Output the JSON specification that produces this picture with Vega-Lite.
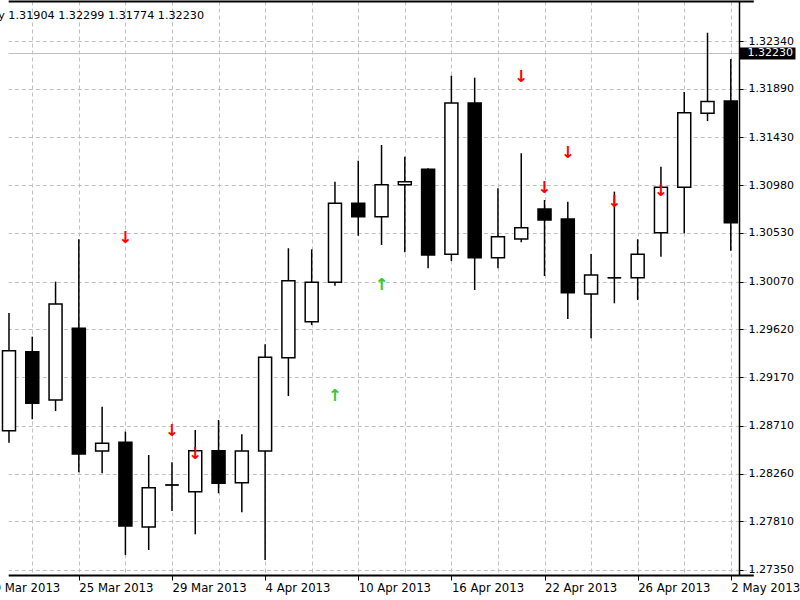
{
  "$schema": "https://vega.github.io/schema/vega-lite/v6.json",
  "width": 739,
  "height": 574,
  "autosize": {"type": "none"},
  "padding": {"left": 0, "top": 1, "right": 61, "bottom": 25},
  "background": "white",
  "config": {"view": {"stroke": null}, "font": "DejaVu Sans"},
  "title": {
    "text": "EURUSD,Daily      1.31904 1.32299 1.31774 1.32230",
    "anchor": "start", "orient": "top", "frame": "group",
    "offset": -35, "baseline": "alphabetic", "dx": -74,
    "font": "DejaVu Sans", "fontSize": 11.2, "fontWeight": "normal", "color": "black"
  },
  "datasets": {
    "candles": [
      {"date": "2013-03-20", "open": 1.28664, "high": 1.29774, "low": 1.28551, "close": 1.29419},
      {"date": "2013-03-21", "open": 1.29409, "high": 1.29551, "low": 1.28772, "close": 1.28922},
      {"date": "2013-03-22", "open": 1.28954, "high": 1.30070, "low": 1.28850, "close": 1.29859},
      {"date": "2013-03-25", "open": 1.29630, "high": 1.30470, "low": 1.28272, "close": 1.28444},
      {"date": "2013-03-26", "open": 1.28473, "high": 1.28890, "low": 1.28262, "close": 1.28545},
      {"date": "2013-03-27", "open": 1.28555, "high": 1.28655, "low": 1.27492, "close": 1.27765},
      {"date": "2013-03-28", "open": 1.27756, "high": 1.28435, "low": 1.27539, "close": 1.28126},
      {"date": "2013-03-29", "open": 1.28152, "high": 1.28366, "low": 1.27907, "close": 1.28152},
      {"date": "2013-04-01", "open": 1.28089, "high": 1.28671, "low": 1.27687, "close": 1.28475},
      {"date": "2013-04-02", "open": 1.28475, "high": 1.28765, "low": 1.28074, "close": 1.28168},
      {"date": "2013-04-03", "open": 1.28174, "high": 1.28630, "low": 1.27894, "close": 1.28473},
      {"date": "2013-04-04", "open": 1.28473, "high": 1.29479, "low": 1.27444, "close": 1.29356},
      {"date": "2013-04-05", "open": 1.29353, "high": 1.30385, "low": 1.28991, "close": 1.30079},
      {"date": "2013-04-08", "open": 1.29692, "high": 1.30375, "low": 1.29661, "close": 1.30064},
      {"date": "2013-04-09", "open": 1.30064, "high": 1.31013, "low": 1.30032, "close": 1.30809},
      {"date": "2013-04-10", "open": 1.30809, "high": 1.31211, "low": 1.30503, "close": 1.30683},
      {"date": "2013-04-11", "open": 1.30683, "high": 1.31359, "low": 1.30416, "close": 1.30985},
      {"date": "2013-04-12", "open": 1.30985, "high": 1.31249, "low": 1.30347, "close": 1.31013},
      {"date": "2013-04-15", "open": 1.31130, "high": 1.31139, "low": 1.30196, "close": 1.30321},
      {"date": "2013-04-16", "open": 1.30328, "high": 1.32013, "low": 1.30265, "close": 1.31755},
      {"date": "2013-04-17", "open": 1.31755, "high": 1.31994, "low": 1.29991, "close": 1.30296},
      {"date": "2013-04-18", "open": 1.30296, "high": 1.30951, "low": 1.30196, "close": 1.30494},
      {"date": "2013-04-19", "open": 1.30472, "high": 1.31281, "low": 1.30441, "close": 1.30579},
      {"date": "2013-04-22", "open": 1.30755, "high": 1.30840, "low": 1.30123, "close": 1.30652},
      {"date": "2013-04-23", "open": 1.30661, "high": 1.30824, "low": 1.29718, "close": 1.29966},
      {"date": "2013-04-24", "open": 1.29954, "high": 1.30331, "low": 1.29536, "close": 1.30133},
      {"date": "2013-04-25", "open": 1.30107, "high": 1.30919, "low": 1.29866, "close": 1.30107},
      {"date": "2013-04-26", "open": 1.30107, "high": 1.30470, "low": 1.29897, "close": 1.30328},
      {"date": "2013-04-29", "open": 1.30532, "high": 1.31154, "low": 1.30305, "close": 1.30960},
      {"date": "2013-04-30", "open": 1.30960, "high": 1.31859, "low": 1.30526, "close": 1.31664},
      {"date": "2013-05-01", "open": 1.31658, "high": 1.32418, "low": 1.31585, "close": 1.31769},
      {"date": "2013-05-02", "open": 1.31774, "high": 1.32170, "low": 1.30362, "close": 1.30626}
    ],
    "signals": [
      {"date": "2013-03-27", "dir": "down", "price": 1.30482},
      {"date": "2013-03-29", "dir": "down", "price": 1.28661},
      {"date": "2013-04-01", "dir": "down", "price": 1.28444},
      {"date": "2013-04-09", "dir": "up", "price": 1.28991},
      {"date": "2013-04-11", "dir": "up", "price": 1.30038},
      {"date": "2013-04-19", "dir": "down", "price": 1.32001},
      {"date": "2013-04-22", "dir": "down", "price": 1.30953},
      {"date": "2013-04-23", "dir": "down", "price": 1.31284},
      {"date": "2013-04-25", "dir": "down", "price": 1.30821},
      {"date": "2013-04-29", "dir": "down", "price": 1.30925}
    ]
  },
  "encoding": {
    "x": {
      "field": "date", "type": "ordinal",
      "scale": {
        "type": "point", "padding": 0, "range": [-14.3, 730.8],
        "domain": ["2013-03-19","2013-03-20","2013-03-21","2013-03-22","2013-03-25","2013-03-26","2013-03-27","2013-03-28","2013-03-29","2013-04-01","2013-04-02","2013-04-03","2013-04-04","2013-04-05","2013-04-08","2013-04-09","2013-04-10","2013-04-11","2013-04-12","2013-04-15","2013-04-16","2013-04-17","2013-04-18","2013-04-19","2013-04-22","2013-04-23","2013-04-24","2013-04-25","2013-04-26","2013-04-29","2013-04-30","2013-05-01","2013-05-02"]
      },
      "axis": {
        "title": null, "orient": "bottom", "domain": false,
        "values": ["2013-03-19","2013-03-21","2013-03-25","2013-03-27","2013-03-29","2013-04-02","2013-04-04","2013-04-08","2013-04-10","2013-04-12","2013-04-16","2013-04-18","2013-04-22","2013-04-24","2013-04-26","2013-04-30","2013-05-02"],
        "labelExpr": "indexof(['2013-03-19','2013-03-25','2013-03-29','2013-04-04','2013-04-10','2013-04-16','2013-04-22','2013-04-26','2013-05-02'], datum.value) >= 0 ? utcFormat(toDate(datum.value), '%-d %b %Y') : ''",
        "labelAlign": "left", "labelBaseline": "top", "labelAngle": 0,
        "labelFont": "DejaVu Sans", "labelFontSize": 11.7, "labelColor": "black",
        "labelPadding": 2, "labelOverlap": false, "labelBound": false,
        "tickSize": 5, "tickColor": "black", "tickWidth": 1,
        "tickOpacity": {"condition": {"test": "indexof(['2013-03-19','2013-03-25','2013-03-29','2013-04-04','2013-04-10','2013-04-16','2013-04-22','2013-04-26','2013-05-02'], datum.value) >= 0", "value": 1}, "value": 0},
        "grid": true, "gridColor": "#c0c0c0", "gridDash": [4, 3], "gridWidth": 1
      }
    }
  },
  "layer": [
    {
      "data": {"name": "candles"},
      "mark": {"type": "rule", "color": "black", "strokeWidth": 1.5},
      "encoding": {
        "y": {
          "field": "low", "type": "quantitative",
          "scale": {"domain": [1.273028, 1.327174], "zero": false, "nice": false},
          "axis": {
            "title": null, "orient": "right",
            "values": [1.273034, 1.2735, 1.2781, 1.2826, 1.2871, 1.2917, 1.2962, 1.3007, 1.3053, 1.3098, 1.3143, 1.3189, 1.3234, 1.3223, 1.327168],
            "format": ".5f",
            "labelExpr": "datum.value < 1.2734 || datum.value > 1.327 ? '' : datum.label",
            "labelFont": "DejaVu Sans", "labelFontSize": 11,
            "labelColor": {"condition": {"test": "abs(datum.value - 1.3223) < 0.000001", "value": "white"}, "value": "black"},
            "labelOverlap": false, "labelBaseline": "middle",
            "labelPadding": {"condition": {"test": "abs(datum.value - 1.3223) < 0.000001", "value": -48}, "value": 5},
            "tickSize": {"condition": {"test": "abs(datum.value - 1.3223) < 0.000001", "value": 56}, "value": 4},
            "tickColor": "black",
            "tickWidth": {"condition": {"test": "abs(datum.value - 1.3223) < 0.000001", "value": 12}, "value": 1},
            "tickOpacity": {"condition": {"test": "datum.value < 1.2734 || datum.value > 1.327", "value": 0}, "value": 1},
            "domainColor": "black", "domainWidth": 1.5,
            "grid": true,
            "gridColor": {"condition": {"test": "datum.value < 1.2734 || datum.value > 1.327", "value": "black"}, "value": "#c0c0c0"},
            "gridWidth": {"condition": {"test": "datum.value < 1.2734 || datum.value > 1.327", "value": 2}, "value": 1},
            "gridDash": {"condition": {"test": "abs(datum.value - 1.3223) < 0.000001 || datum.value < 1.2734 || datum.value > 1.327", "value": []}, "value": [4, 3]}
          }
        },
        "y2": {"field": "high"}
      }
    },
    {
      "data": {"name": "candles"},
      "mark": {"type": "bar", "size": 13, "stroke": "black", "strokeWidth": 1.5},
      "encoding": {
        "y": {"field": "open", "type": "quantitative"},
        "y2": {"field": "close"},
        "fill": {"condition": {"test": "datum.close >= datum.open", "value": "white"}, "value": "black"}
      }
    },
    {
      "data": {"name": "candles"},
      "transform": [{"filter": "datum.open == datum.close"}],
      "mark": {"type": "tick", "color": "black", "thickness": 1.5, "size": 14},
      "encoding": {
        "y": {"field": "open", "type": "quantitative"}
      }
    },
    {
      "data": {"name": "signals"},
      "mark": {"type": "text", "font": "DejaVu Sans", "fontSize": 16.5, "fontWeight": "bold", "align": "center", "baseline": "middle"},
      "encoding": {
        "y": {"field": "price", "type": "quantitative"},
        "text": {"condition": {"test": "datum.dir == 'up'", "value": "↑"}, "value": "↓"},
        "color": {"field": "dir", "type": "nominal", "scale": {"domain": ["down", "up"], "range": ["#ff0000", "#2ecc2e"]}, "legend": null}
      }
    }
  ]
}
